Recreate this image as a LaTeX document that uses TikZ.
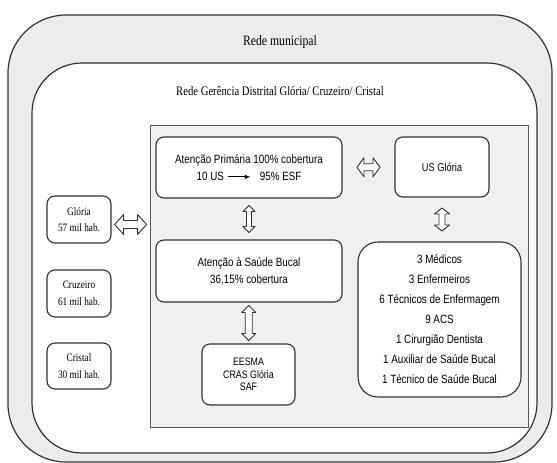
\documentclass[tikz,border=0pt]{standalone}
\usepackage{fontspec}
\setmainfont{Liberation Serif}[FakeStretch=0.82]
\newfontfamily\boxsans{Liberation Sans}[FakeStretch=0.82]
\usetikzlibrary{calc}
\definecolor{bandgray}{RGB}{236,236,236}
\definecolor{panelgray}{RGB}{240,240,240}
\definecolor{edgegray}{RGB}{50,50,50}
\def\dblarrow[#1](#2)(#3:#4:#5:#6:#7){\draw[#1,shift={(#2)},rotate=#3] ({-#4/2},0) -- ({-#4/2+#7},{#5/2}) -- ({-#4/2+#7},{#6/2}) -- ({#4/2-#7},{#6/2}) -- ({#4/2-#7},{#5/2}) -- ({#4/2},0) -- ({#4/2-#7},{-#5/2}) -- ({#4/2-#7},{-#6/2}) -- ({-#4/2+#7},{-#6/2}) -- ({-#4/2+#7},{-#5/2}) -- cycle;}

\begin{document}
\begin{tikzpicture}[x=1pt,y=-1pt,
	sansbox/.style={draw=edgegray,fill=white,line width=1.1pt,rounded corners=8pt,align=center,inner sep=2pt,font=\boxsans\fontsize{12}{17}\selectfont},
	serifbox/.style={draw=edgegray,fill=white,line width=1.1pt,rounded corners=8pt,align=center,inner sep=2pt,minimum width=64pt,font=\fontsize{11.3}{16.5}\selectfont},
	hollow/.style={draw=edgegray,fill=white,line width=0.9pt,line join=round}]
	%%%%% START %%%%%
	
	\useasboundingbox (0,0) rectangle (557,463);
	
	\draw[edgegray, fill=bandgray, line width=1.2pt, rounded corners=58pt] (8,15) rectangle (552,462);
	\draw[edgegray, fill=white, line width=1.2pt, rounded corners=50pt] (32,63) rectangle (537,453);
	\node[font=\fontsize{14.3}{16}\selectfont] (municipal) at (280,42) {Rede municipal};
	\node[font=\fontsize{13}{15}\selectfont] (gerencia) at (280,91) {Rede Gerência Distrital Glória/ Cruzeiro/ Cristal};
	
	\node[draw=black!65, fill=panelgray, line width=0.8pt, minimum width=378pt, minimum height=302pt, inner sep=0pt] (centro) at (339,276) {};
	
	\node[serifbox, minimum height=47pt] (gloria) at (79,219.5) {Glória\\57 mil hab.};
	\node[serifbox, minimum height=47pt] (cruzeiro) at (79,293.5) {Cruzeiro\\61 mil hab.};
	\node[serifbox, minimum height=46pt] (cristal) at (79,366) {Cristal\\30 mil hab.};
	
	\node[sansbox, minimum width=186pt, minimum height=61pt] (ap) at (249,167.5) {Atenção Primária 100\% cobertura\\10 US\hspace{4pt}\tikz[baseline=-3.5pt]\draw[-latex,line width=0.9pt] (0pt,0pt) -- (22pt,0pt);\hspace{9pt}95\% ESF};
	\node[sansbox, minimum width=94pt, minimum height=60pt, font=\boxsans\fontsize{11.3}{14}\selectfont] (us) at (442,167) {US Glória};
	\node[sansbox, minimum width=186pt, minimum height=62pt] (bucal) at (249,271) {Atenção à Saúde Bucal\\36,15\% cobertura};
	\node[sansbox, minimum width=163pt, minimum height=155pt, rounded corners=20pt, font=\boxsans\fontsize{12}{20}\selectfont] (equipe) at (439.5,319.5) {3 Médicos\\3 Enfermeiros\\6 Técnicos de Enfermagem\\9 ACS\\1 Cirurgião Dentista\\1 Auxiliar de Saúde Bucal\\1 Técnico de Saúde Bucal};
	\node[sansbox, minimum width=93pt, minimum height=61pt, font=\boxsans\fontsize{10.8}{12.5}\selectfont] (eesma) at (248.5,374.5) {EESMA\\CRAS Glória\\SAF};
	
	\coordinate (aGloria) at ($($(gloria.east)!.5!(centro.west|-gloria.east)$)+(0,5)$);
	\coordinate (aUS) at ($(ap.east)!.5!(us.west)$);
	\coordinate (aBucal) at ($(ap.south)!.5!(bucal.north)$);
	\coordinate (aEquipe) at ($(us.south)!.5!(equipe.north-|us.south)$);
	\coordinate (aEesma) at ($(bucal.south)!.5!(eesma.north)$);
	
	\dblarrow[hollow](aGloria)(0:32:20:8:9);
	\dblarrow[hollow](aUS)(0:23:19:7:7);
	\dblarrow[hollow](aBucal)(90:27:12:5:6);
	\dblarrow[hollow](aEquipe)(90:23:15:6:6);
	\dblarrow[hollow](aEesma)(90:35:14:7:7);
	
	%%%%% END %%%%%
\end{tikzpicture}
\end{document}
